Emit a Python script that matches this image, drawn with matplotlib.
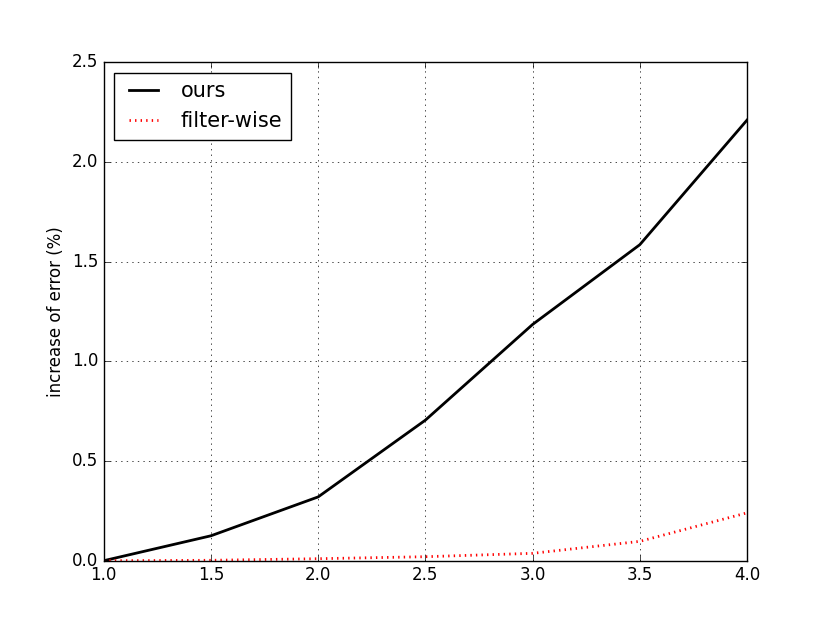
import matplotlib
matplotlib.use("Agg")
import matplotlib.pyplot as plt

plt.style.use('classic')

x = [1.0, 1.5, 2.0, 2.5, 3.0, 3.5, 4.0]
ours = [0.0, 0.125, 0.32, 0.705, 1.185, 1.585, 2.21]
filterwise = [0.0, 0.002, 0.01, 0.02, 0.037, 0.097, 0.24]

fig = plt.figure(figsize=(8.3, 6.23), dpi=100)
ax = fig.add_subplot(111)
ax.plot(x, ours, 'k-', linewidth=2, label='ours')
ax.plot(x, filterwise, 'r:', linewidth=2, label='filter-wise')
ax.set_xlim(1.0, 4.0)
ax.set_ylim(0.0, 2.5)
ax.set_ylabel('increase of error (%)')
ax.grid(True)
ax.legend(loc='upper left', fontsize=15)
fig.savefig('out.png', dpi=100, facecolor='white')
